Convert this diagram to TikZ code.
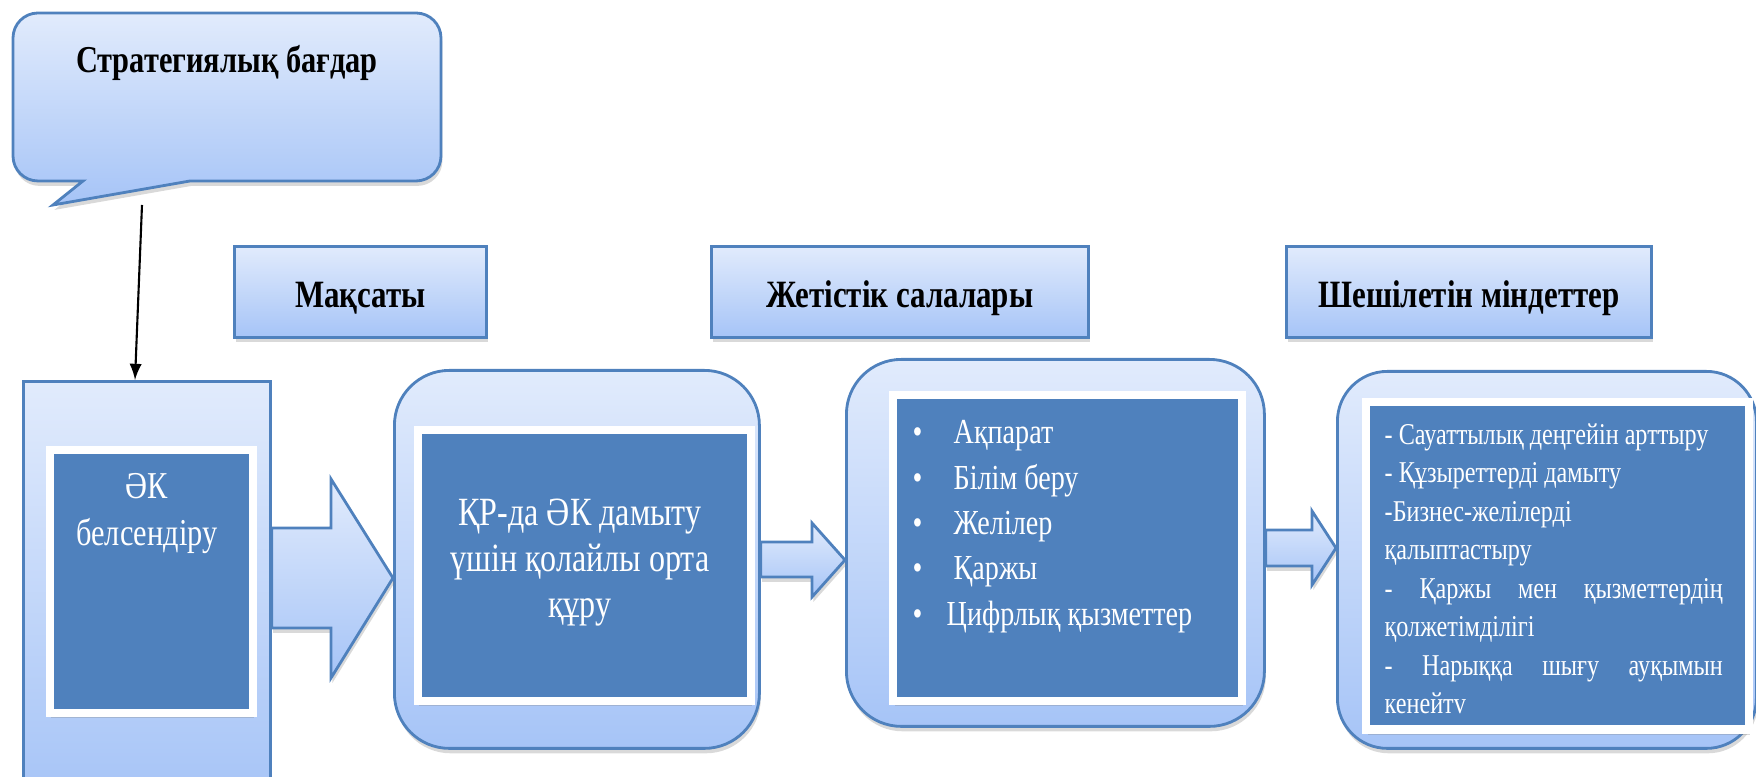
\documentclass[tikz,border=0pt]{standalone}
\usepackage{fontspec}
\setmainfont[FakeStretch=0.8]{Liberation Serif}
\usepackage{tikz}
\usetikzlibrary{shapes}
\usetikzlibrary{arrows}
\usetikzlibrary{shadows}
\usetikzlibrary{calc}
\definecolor{paleblue}{RGB}{225,235,252}
\definecolor{skyblue}{RGB}{166,196,247}
\definecolor{edgeblue}{RGB}{79,129,189}
\definecolor{fillblue}{RGB}{79,129,189}
\tikzset{
  soft_shadow/.style = {drop shadow={opacity=0.3, shadow xshift=0.4pt,
    shadow yshift=-1.4pt}},
  outer_box/.style = {draw=edgeblue, line width=0.8pt, top color=paleblue,
    bottom color=skyblue, anchor=north west, inner sep=0pt, soft_shadow},% fond degrade
  inner_box/.style = {draw=white, line width=2.4pt, fill=fillblue,
    anchor=north west, inner sep=0pt, soft_shadow},% cadre blanc, fond bleu
  head_box/.style = {outer_box, minimum height=9.1mm, text height=11.3pt,
    text depth=2.7pt, font=\bfseries\fontsize{11}{13}\selectfont},% titre de colonne
  block_arrow/.style = {draw=edgeblue, line width=0.8pt, top color=paleblue,
    bottom color=skyblue, soft_shadow},% grosse fleche
  white_text/.style = {text=white, inner sep=0pt}
}

\begin{document}
\begin{tikzpicture}[x=0.1mm, y=-0.1mm]
    \clip (0,0) rectangle (1756,777);
    % bulle
    \draw[block_arrow] (53,205) -- (83,181) [rounded corners=2.5mm] -- (13,181)
      -- (13,13) -- (441,13) -- (441,181) [sharp corners] -- (190,181) -- cycle;
    \node[inner sep=0pt, font=\bfseries\fontsize{10.8}{13}\selectfont] (title)
      at (227,63) {Стратегиялық бағдар};
    \coordinate (call_end) at (142,205);

    % titres
    \node[head_box, minimum width=25.2mm] (goal_head) at (233,245) {Мақсаты};
    \node[head_box, minimum width=37.7mm] (area_head) at (710,245) {Жетістік салалары};
    \node[head_box, minimum width=36.5mm] (task_head) at (1285,245) {Шешілетін міндеттер};

    % colonnes
    \node[outer_box, minimum width=24.7mm, minimum height=42mm] (act_col) at (22,380) {};
    \node[outer_box, rounded corners=5.5mm, minimum width=36.5mm,
      minimum height=37.8mm] (goal_col) at (393,369) {};
    \node[outer_box, rounded corners=5.5mm, minimum width=41.8mm,
      minimum height=36.7mm] (area_col) at (845,358) {};
    \node[outer_box, rounded corners=5mm, minimum width=41.9mm,
      minimum height=37.7mm] (task_col) at (1336,370) {};

    \draw[-latex, line width=0.6pt] (call_end) -- ($(act_col.north west)+(113,0)$);

    \draw[block_arrow] (act_col.east |- 0,528) -- (331,528) -- (331,479)
      -- (goal_col.west |- 0,578) -- (331,678) -- (331,628) -- (act_col.east |- 0,628) -- cycle;
    \draw[block_arrow] (goal_col.east |- 0,542) -- (812,542) -- (812,523)
      -- (area_col.west |- 0,560) -- (812,597) -- (812,577) -- (goal_col.east |- 0,577) -- cycle;
    \draw[block_arrow] (area_col.east |- 0,530) -- (1312,530) -- (1312,511)
      -- (task_col.west |- 0,548) -- (1312,585) -- (1312,566) -- (area_col.east |- 0,566) -- cycle;

    \node[inner_box, minimum width=20.3mm, minimum height=26.3mm] (act_box) at (45.5,446) {};
    \node[inner_box, minimum width=33.3mm, minimum height=27.1mm] (goal_box) at (413.5,426) {};
    \node[inner_box, minimum width=34.85mm, minimum height=30.6mm] (area_box) at (889,391) {};
    \node[inner_box, minimum width=38.25mm, minimum height=32.75mm] (task_box) at (1362,398) {};

    \node[white_text, align=center, anchor=north, font=\fontsize{10.8}{13.4}\selectfont]
      (act_txt) at (147,473) {ӘК\\белсендіру};
    \node[white_text, align=center, anchor=north, font=\fontsize{11.4}{13.1}\selectfont]
      (goal_txt) at (580,498) {ҚР-да ӘК дамыту\\үшін қолайлы орта\\құру};
    \node[white_text, align=left, anchor=north west, font=\fontsize{10}{12.9}\selectfont]
      (area_txt) at (912,420) {\makebox[4.1mm][l]{•}Ақпарат\\
      \makebox[4.1mm][l]{•}Білім беру\\ \makebox[4.1mm][l]{•}Желілер\\
      \makebox[4.1mm][l]{•}Қаржы\\ \makebox[3.4mm][l]{•}Цифрлық қызметтер};
    \node[white_text, align=left, anchor=north west, font=\fontsize{8.6}{10.95}\selectfont]
      (task_txt) at (1384,423) {- Сауаттылық деңгейін арттыру\\- Құзыреттерді дамыту\\
      -Бизнес-желілерді\\қалыптастыру\\\makebox[33.8mm][s]{- Қаржы мен қызметтердің}\\
      қолжетімділігі\\\makebox[33.8mm][s]{- Нарыққа шығу ауқымын}\\кенейтv};
  \end{tikzpicture}
\end{document}
